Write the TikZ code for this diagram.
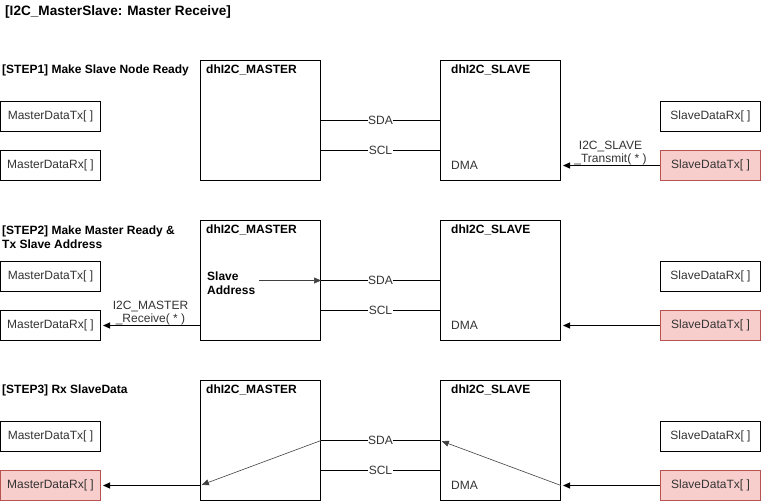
\documentclass[tikz,border=0pt]{standalone}
\usepackage{fontspec}
\setmainfont{Liberation Sans}
\usetikzlibrary{positioning,calc,arrows.meta}
\definecolor{bufred}{HTML}{F8CECC}
\definecolor{bufredline}{HTML}{B85450}
\definecolor{txtgray}{HTML}{333333}
\tikzset{>={Triangle[length=7pt,width=6pt]}}

\begin{document}
\begin{tikzpicture}[
    x=1pt, y=-1pt,
    font=\fontsize{12}{14}\selectfont,
    every node/.style={inner sep=2pt},
    buf/.style={draw, line width=1pt, minimum width=100pt, minimum height=30pt,
                anchor=north west, text=txtgray},
    bufon/.style={buf, fill=bufred, draw=bufredline},
    unit/.style={draw, line width=1pt, minimum width=120pt, minimum height=120pt,
                 anchor=north west},
    head/.style={anchor=west, font=\fontsize{12}{14}\selectfont\bfseries},
    bus/.style={line width=1pt},
    buslbl/.style={fill=white, inner sep=0.5pt, text=txtgray},
    feed/.style={->, line width=1pt, shorten >=2pt},
    path/.style={->, line width=0.6pt, draw=black!75, shorten >=2pt},
    call/.style={above, align=center, inner sep=0pt, text=txtgray,
                 font=\fontsize{12}{13}\selectfont}
]
\useasboundingbox (0,0) rectangle (761,501);

\node[head, font=\fontsize{13.6}{16}\selectfont\bfseries] (title) at (3,12)
    {[I2C\_MasterSlave: Master Receive]};

% STEP1
\node[head] (step1) at (0,70) {[STEP1] Make Slave Node Ready};
\node[unit] (m1) at (200,60) {};
\node[unit] (s1) at (440,60) {};
\node[head] (m1name) at ([xshift=4pt,yshift=-10pt]m1.north west) {dhI2C\_MASTER};
\node[head] (s1name) at ([xshift=9pt,yshift=-10pt]s1.north west) {dhI2C\_SLAVE};
\node[buf] (mtx1) at (0,101) {MasterDataTx[ ]};
\node[buf] (mrx1) at (0,150) {MasterDataRx[ ]};
\node[buf] (srx1) at (660,101) {SlaveDataRx[ ]};
\node[bufon] (stx1) at (660,150) {SlaveDataTx[ ]};
\node[anchor=west, text=txtgray] (dma1) at ([xshift=9pt]s1.west |- stx1) {DMA};
\draw[bus] (m1.east) -- node[buslbl] {SDA} (s1.west);
\draw[bus] ($(m1.east)!0.5!(m1.south east)$) -- node[buslbl] {SCL}
    ($(s1.west)!0.5!(s1.south west)$);
\draw[feed] (stx1.west) -- node[call] {I2C\_SLAVE\\\_Transmit( * )} (stx1.west -| s1.east);

% STEP2
\node[head, align=left] (step2) at (0,237) {[STEP2] Make Master Ready \&\\Tx Slave Address};
\node[unit] (m2) at (200,220) {};
\node[unit] (s2) at (440,220) {};
\node[head] (m2name) at ([xshift=4pt,yshift=-10pt]m2.north west) {dhI2C\_MASTER};
\node[head] (s2name) at ([xshift=9pt,yshift=-10pt]s2.north west) {dhI2C\_SLAVE};
\node[buf] (mtx2) at (0,261) {MasterDataTx[ ]};
\node[buf] (mrx2) at (0,310) {MasterDataRx[ ]};
\node[buf] (srx2) at (660,261) {SlaveDataRx[ ]};
\node[bufon] (stx2) at (660,310) {SlaveDataTx[ ]};
\node[anchor=west, text=txtgray] (dma2) at ([xshift=9pt]s2.west |- stx2) {DMA};
\node[head, align=left] (addr) at (205,283) {Slave\\Address};
\draw[bus] (m2.east) -- node[buslbl] {SDA} (s2.west);
\draw[bus] ($(m2.east)!0.5!(m2.south east)$) -- node[buslbl] {SCL}
    ($(s2.west)!0.5!(s2.south west)$);
\draw[path, shorten >=0pt, shorten <=2pt] (addr.east |- m2.east) -- (m2.east);
\draw[feed] (m2.west |- mrx2) -- node[call] {I2C\_MASTER\\\_Receive( * )} (mrx2.east);
\draw[feed] (stx2.west) -- (stx2.west -| s2.east);

% STEP3
\node[head] (step3) at (0,390) {[STEP3] Rx SlaveData};
\node[unit] (m3) at (200,380) {};
\node[unit] (s3) at (440,380) {};
\node[head] (m3name) at ([xshift=4pt,yshift=-10pt]m3.north west) {dhI2C\_MASTER};
\node[head] (s3name) at ([xshift=9pt,yshift=-10pt]s3.north west) {dhI2C\_SLAVE};
\node[buf] (mtx3) at (0,421) {MasterDataTx[ ]};
\node[bufon] (mrx3) at (0,470) {MasterDataRx[ ]};
\node[buf] (srx3) at (660,421) {SlaveDataRx[ ]};
\node[bufon] (stx3) at (660,470) {SlaveDataTx[ ]};
\node[anchor=west, text=txtgray] (dma3) at ([xshift=9pt]s3.west |- stx3) {DMA};
\draw[bus] (m3.east) -- node[buslbl] {SDA} (s3.west);
\draw[bus] ($(m3.east)!0.5!(m3.south east)$) -- node[buslbl] {SCL}
    ($(s3.west)!0.5!(s3.south west)$);
\draw[feed] (stx3.west) -- (stx3.west -| s3.east);
\draw[path] (stx3.west -| s3.east) -- (s3.west);
\draw[path] (m3.east) -- (m3.west |- mrx3);
\draw[feed] (m3.west |- mrx3) -- (mrx3.east);
\end{tikzpicture}
\end{document}
